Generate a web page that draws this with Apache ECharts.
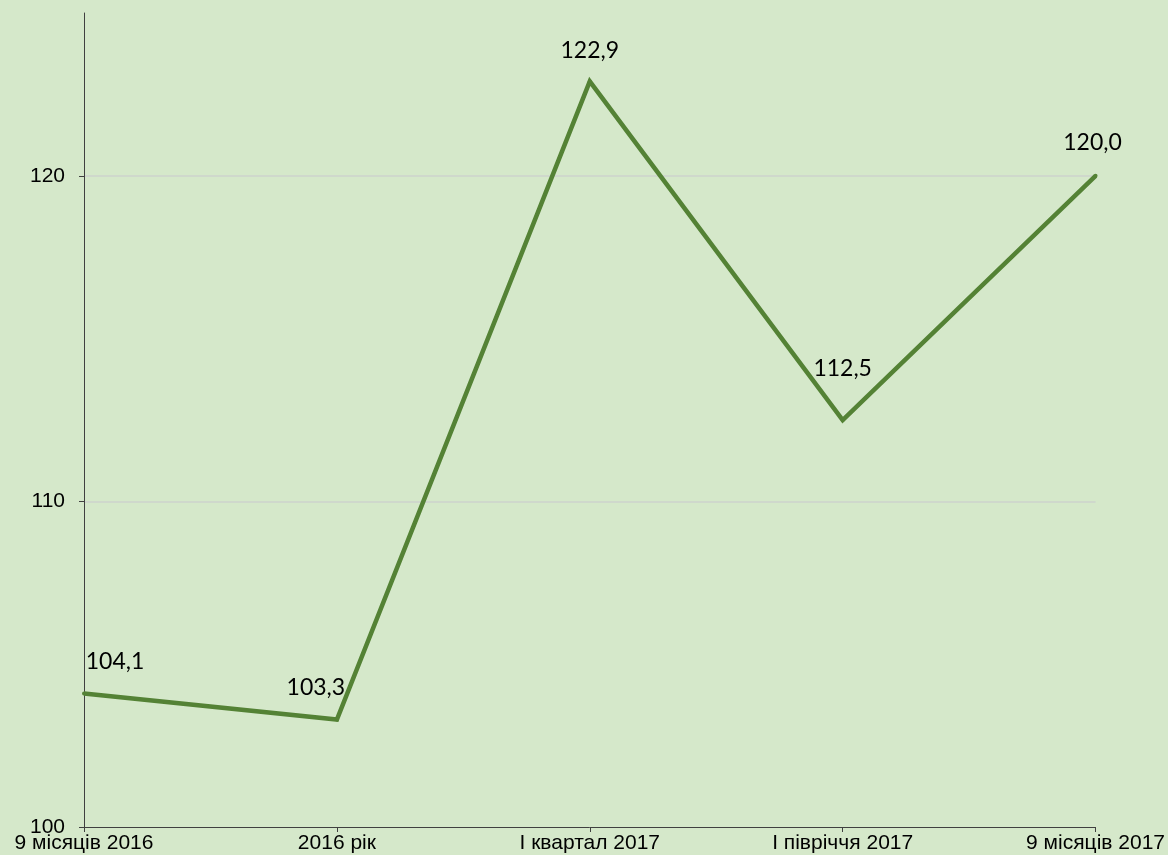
<!DOCTYPE html>
<html>
<head>
<meta charset="utf-8">
<script src="https://cdn.jsdelivr.net/npm/echarts@6/dist/echarts.min.js"></script>
<style>
html,body{margin:0;padding:0;background:#d5e8ca;}
#chart{width:1168px;height:855px;}
</style>
</head>
<body>
<div id="chart"></div>
<script>
var categories = ['9 місяців 2016', '2016 рік', 'І квартал 2017', 'І півріччя 2017', '9 місяців 2017'];
var values = [104.1, 103.3, 122.9, 112.5, 120.0];
var yTicks = [100, 110, 120];

// label placement (style only)
var labelOffsets = [[31, -13], [-21, -13], [0, -12], [0, -33], [-3, -15]];

var chart = echarts.init(document.getElementById('chart'), null, {renderer: 'canvas'});
chart.setOption({
  backgroundColor: '#d5e8ca',
  animation: false,
  grid: {left: 84, right: 72, top: 13, bottom: 28, containLabel: false},
  xAxis: {
    type: 'category',
    data: categories,
    boundaryGap: false,
    axisLine: {show: true, lineStyle: {color: '#404040', width: 1}},
    axisTick: {show: true, alignWithLabel: true, length: 5, lineStyle: {color: '#404040'}},
    axisLabel: {color: '#000', fontFamily: 'Liberation Sans', fontSize: 21, margin: 6, interval: 0},
    splitLine: {show: false}
  },
  yAxis: {
    type: 'value',
    min: 100,
    max: 125,
    interval: 10,
    axisLine: {show: true, lineStyle: {color: '#404040', width: 1}},
    axisTick: {show: true, length: 5, lineStyle: {color: '#404040'}},
    axisLabel: {
      color: '#000', fontFamily: 'Liberation Sans', fontSize: 21, margin: 19,
      showMaxLabel: false,
      formatter: function (v) { return yTicks.indexOf(v) >= 0 ? String(v) : ''; }
    },
    splitLine: {show: true, showMinLine: false, showMaxLine: false, lineStyle: {color: '#cdd3cc', width: 1.5}}
  },
  series: [{
    type: 'line',
    data: values.map(function (v, i) {
      return {value: v, label: {show: true, offset: labelOffsets[i]}};
    }),
    symbol: 'circle',
    symbolSize: 4,
    showSymbol: true,
    showAllSymbol: true,
    itemStyle: {color: '#548235'},
    lineStyle: {color: '#548235', width: 4.5, join: 'miter'},
    label: {
      show: true,
      position: 'top',
      distance: 5,
      color: '#000',
      opacity: 1,
      fontFamily: 'Lato',
      fontSize: 23,
      formatter: function (p) { return p.value.toFixed(1).replace('.', ','); }
    }
  }]
});
</script>
</body>
</html>
